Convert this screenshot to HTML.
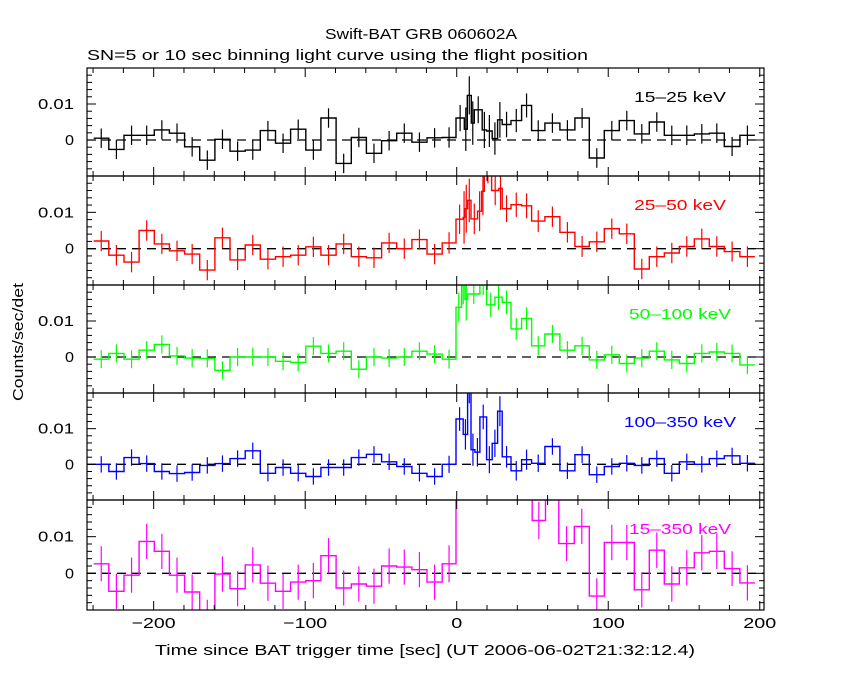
<!DOCTYPE html>
<html><head><meta charset="utf-8">
<style>
html,body{margin:0;padding:0;background:#fff;}
svg{display:block;font-family:"Liberation Sans",sans-serif;}
</style></head>
<body>
<svg id="chart" width="850" height="680" viewBox="0 0 850 680" xmlns="http://www.w3.org/2000/svg">
<rect x="0" y="0" width="850" height="680" fill="#fff"/>
<text x="325" y="39" textLength="192" lengthAdjust="spacingAndGlyphs" font-size="15">Swift-BAT GRB 060602A</text>
<text x="87" y="60" textLength="501" lengthAdjust="spacingAndGlyphs" font-size="15">SN=5 or 10 sec binning light curve using the flight position</text>
<text transform="translate(23,342) rotate(-90)" text-anchor="middle" textLength="118" lengthAdjust="spacingAndGlyphs" font-size="15">Counts/sec/det</text>
<text x="155" y="655" textLength="540" lengthAdjust="spacingAndGlyphs" font-size="15">Time since BAT trigger time [sec] (UT 2006-06-02T21:32:12.4)</text>
<g id="panels"></g>
</svg>
<script>
const L = [-239.6,-229.6,-219.6,-209.6,-199.6,-189.6,-179.6,-169.6,-159.6,-149.6,-139.6,-129.6,-119.6,-109.6,-99.6,-89.6,-79.6,-69.6,-59.6,-49.6,-39.6,-29.6,-19.6,-9.6,-0.5];
const POST = [30.0,35.8,42.8,49.4,58.2,68.1,78,87.5,97.4,107.3,117.2,127.1,137,146.9,156.8,166.7,176.6,186.9,196.8];

const p1Burst = [5,7,9.6,11.6,16.8,19.7,23.4,27];
const p1Values = [0.5,-2.6,1.3,1.3,2.8,1.9,-1.9,-5.6,0.2,-3.1,-2.8,2.6,-0.9,3.0,-2.8,6.1,-6.5,0.7,-3.7,-0.2,1.9,-0.6, 0.6,0.7,
  6.1,3.0,12.4,4.7,8.4,2.8,2.5,0.4,5.6,
  4.3,5.4,9.6,2.6,4.7,2.8,6.1,-5.0,2.6,5.4,1.7,5.0,1.3,1.3,1.7,1.9,-1.8,1.3];

const p2Burst = [4.3,5.4,7.2,9.4,13.8,16.4,18.2,23,27.8];
const p2Values = [2.1,-1.8,-3.7,5.0,1.3,-0.6,-1.5,-5.9,3.0,-3.1,1.0,-2.9,-2.2,-1.8,0.5,-1.8,1.3,-2.2,-2.5,1.6,0,2.5, -1.5,1.6,
  8.1,8.6,11,13.3,8.2,10.3,15.8,22,16,16.6,
  11,12.1,11.8,7.6,8.8,4.5,0.6,1.9,5.5,4.1,-5.6,-2.2,-1.2,0.6,2.7,0.6,-0.8,-2.2];

const p3Burst = [3.2,5.4,7.2,15.3,19.7,25.2];
const p3Values = [-0.6,1.0,-0.6,1.9,3.5,0.3,-0.3,-0.4,-3.7,0,0,0,-1.2,-1.5,3.0,1.0,1.6,-3.4,0,-0.3,0,1.6, 0.8,-0.6,
  13.8,20,16,17.5,21,14.5,16.6,
  15.2,7.8,10.7,3.1,6.4,1.9,3.1,-0.8,0.6,-1.8,-0.3,1.6,-0.8,-1.8,1.0,1.4,1.0,-2.2];

const p4Burst = [4.3,7.2,9.4,12,15.3,19.7,23.4,27];
const p4Values = [0,-2.0,1.9,0.2,-2.0,-2.6,-2.3,-0.3,0.2,1.6,3.8,-2.5,-0.9,-2.5,-3.4,-0.9,-0.9,1.9,2.8,0.7,-0.6,-2.5, -3.4,0,
  12.7,8.4,22,4.1,3.4,13.3,1.3,5.9,14.9,
  2.1,-1.8,1.3,0.3,5,-1.8,2.7,-2.9,-0.6,0.3,-0.3,1.6,-2.5,0.7,0,1.6,2.4,0.3];

const p5Edges = L.concat([10,20,30,40,49.8,58.6,67.4,77.6,87.5,97.4,107.3,117.2,127.1,137,146.9,156.8,166.7,176.6,186.9,196.8]);
const p5Values = [2.6,-4.9,-0.5,8.7,6.0,-0.5,-5.1,-12,-0.2,-4.2,2.3,-2.7,-4.9,-2.4,-2.0,4.8,-4.0,-2.9,-3.5,2.0,1.7,1.0, -2.4,2.6,
  30,30,30,30,26,14.4,26,8.1,12.8,
  -6.2,8.4,8.4,-4.5,6.3,-2.9,1.5,5.6,6.0,1.3,-2.6];

const xTicksMajor = [-200,-100,0,100,200];
const xTickLabels = ["\u2212200","\u2212100","0","100","200"];
const yTickLabels = ["0","0.01"];

const panels = [
  {name:'15-25', label:'15\u201325 keV', color:'#000000', edges:L.concat(p1Burst, POST), values:p1Values, err:2.7, top:68, bot:176},
  {name:'25-50', label:'25\u201350 keV', color:'#ff0000', edges:L.concat(p2Burst, POST), values:p2Values, err:2.8, top:176, bot:285},
  {name:'50-100', label:'50\u2013100 keV', color:'#00ff00', edges:L.concat(p3Burst, POST), values:p3Values, err:2.5, top:285, bot:393},
  {name:'100-350', label:'100\u2013350 keV', color:'#0000ff', edges:L.concat(p4Burst, POST), values:p4Values, err:2.3, top:393, bot:500},
  {name:'15-350', label:'15\u2013350 keV', color:'#ff00ff', edges:p5Edges, values:p5Values, err:4.8, top:500, bot:610}
];

const X0 = 87, X1 = 764, T0 = -244, T1 = 202.8;
function xs(t){ return X0 + (t - T0) / (T1 - T0) * (X1 - X0); }
const NS = 'http://www.w3.org/2000/svg';
function mk(tag, attrs, parent){
  const e = document.createElementNS(NS, tag);
  for (const k in attrs) e.setAttribute(k, attrs[k]);
  parent.appendChild(e);
  return e;
}
const root = document.getElementById('panels');

panels.forEach((p, pi) => {
  const ys = v => p.bot - (v + 10) / 30 * (p.bot - p.top);
  const g = mk('g', {}, root);
  
  
  const cp = mk('clipPath', {id:'cp'+pi}, g);
  mk('rect', {x:X0, y:p.top, width:X1-X0, height:p.bot-p.top}, cp);
  const dg = mk('g', {'clip-path':'url(#cp'+pi+')'}, g);
  const zl = mk('line', {x1:X0, x2:X1, y1:ys(0), y2:ys(0), stroke:'#000', 'stroke-width':1.3, 'stroke-dasharray':'9,6'}, dg);
  
  
  let d = '';
  for (let i = 0; i < p.values.length; i++) {
    const xa = xs(p.edges[i]), xb = xs(p.edges[i+1]), y = ys(p.values[i]);
    d += (i === 0 ? 'M' : 'L') + xa.toFixed(1) + ',' + y.toFixed(1) + 'L' + xb.toFixed(1) + ',' + y.toFixed(1);
  }
  const path = mk('path', {d:d, fill:'none', stroke:p.color, 'stroke-width':1.4}, dg);
  
  
  for (let i = 0; i < p.values.length; i++) {
    const w = p.edges[i+1] - p.edges[i];
    const e = p.err * Math.sqrt(10 / Math.max(w, 1.5));
    const xc = xs((p.edges[i] + p.edges[i+1]) / 2);
    const eb = mk('line', {x1:xc, x2:xc, y1:ys(p.values[i]-e), y2:ys(p.values[i]+e), stroke:p.color, 'stroke-width':1.2}, dg);
    
    
  }
  mk('rect', {x:X0, y:p.top, width:X1-X0, height:p.bot-p.top, fill:'none', stroke:'#000', 'stroke-width':1.2}, g);
  for (let t = -240; t <= 200; t += 20) {
    const major = t % 100 === 0;
    const len = major ? 9 : 5, x = xs(t);
    mk('line', {x1:x, x2:x, y1:p.top, y2:p.top+len, stroke:'#000', 'stroke-width':1}, g);
    mk('line', {x1:x, x2:x, y1:p.bot, y2:p.bot-len, stroke:'#000', 'stroke-width':1}, g);
  }
  for (let v = -10; v <= 20; v += 2) {
    const major = v % 10 === 0;
    const len = major ? 9 : 5, y = ys(v);
    mk('line', {x1:X0, x2:X0+len, y1:y, y2:y, stroke:'#000', 'stroke-width':1}, g);
    mk('line', {x1:X1, x2:X1-len, y1:y, y2:y, stroke:'#000', 'stroke-width':1}, g);
  }
  yTickLabels.forEach((lab, k) => {
    const t = mk('text', {x:74, y:ys(k*10)+5, 'text-anchor':'end', 'font-size':15, textLength: lab.length*9, lengthAdjust:'spacingAndGlyphs'}, g);
    
    
    t.textContent = lab;
  });
  const lt = mk('text', {x:680, y:p.top+34, 'text-anchor':'middle', 'font-size':15, fill:p.color, textLength: p.label.length*10.2, lengthAdjust:'spacingAndGlyphs'}, g);
  
  
  lt.textContent = p.label;
});
xTicksMajor.forEach((t, i) => {
  const lab = xTickLabels[i];
  const tx = mk('text', {x:xs(t), y:628, 'text-anchor':'middle', 'font-size':15, textLength: lab.length*11, lengthAdjust:'spacingAndGlyphs'}, root);
  
  
  tx.textContent = lab;
});
</script>
</body></html>
